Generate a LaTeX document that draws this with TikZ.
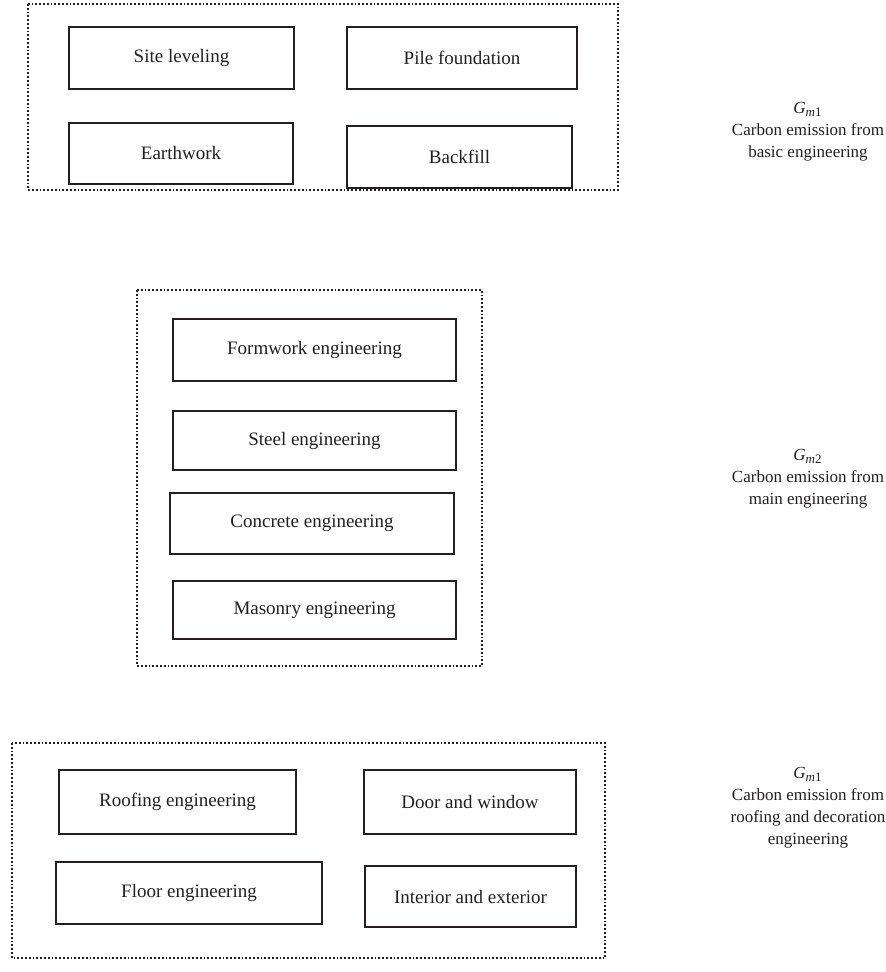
\documentclass[tikz,border=0pt]{standalone}
\usepackage{fontspec}
\setmainfont{Liberation Serif}
\usetikzlibrary{positioning}

\definecolor{inkgray}{HTML}{231F20}

\newcommand{\gsym}[1]{\textit{G}$_{\mbox{\fontsize{6.5}{7}\selectfont\textit{m}#1}}$}

\tikzset{
  itembox/.style={draw=inkgray, line width=0.6pt, inner sep=0pt, text=inkgray,
    font=\fontsize{9.5}{11}\selectfont},
  panel/.style={draw=inkgray, line width=0.9pt, densely dotted},
  sidelabel/.style={align=center, text=inkgray, inner sep=0pt, font=\fontsize{8.5}{11}\selectfont}
}

\begin{document}
\begin{tikzpicture}[x=0.5pt,y=-0.5pt]
\useasboundingbox (0,0) rectangle (885,972);
\draw[panel] (28,4) rectangle (618,190);
\node[itembox, minimum width=112.5pt, minimum height=31pt] (site) at (181.5,58) {Site leveling};
\node[itembox, minimum width=115pt, minimum height=31pt] (pile) at (462,58) {Pile foundation};
\node[itembox, minimum width=112pt, minimum height=30.5pt] (earth) at (181,153.5) {Earthwork};
\node[itembox, minimum width=112.5pt, minimum height=31pt] (backfill) at (459.5,157) {Backfill};
\node[sidelabel] (gbasic) at (808,132) {\gsym{1}\\Carbon emission from\\basic engineering};

\draw[panel] (137,290) rectangle (482,666);
\node[itembox, minimum width=141.5pt, minimum height=31pt] (formwork) at (314.5,350) {Formwork engineering};
\node[itembox, minimum width=141.5pt, minimum height=29.5pt] (steel) at (314.5,440.5) {Steel engineering};
\node[itembox, minimum width=142pt, minimum height=30.5pt] (concrete) at (312,523.5) {Concrete engineering};
\node[itembox, minimum width=141.5pt, minimum height=29pt] (masonry) at (314.5,610) {Masonry engineering};
\node[sidelabel] (gmain) at (808,479) {\gsym{2}\\Carbon emission from\\main engineering};

\draw[panel] (12,743) rectangle (605,958);
\node[itembox, minimum width=118.5pt, minimum height=32pt] (roofing) at (177.5,802) {Roofing engineering};
\node[itembox, minimum width=106pt, minimum height=32pt] (door) at (470,802) {Door and window};
\node[itembox, minimum width=133pt, minimum height=31pt] (floor) at (189,893) {Floor engineering};
\node[itembox, minimum width=105.5pt, minimum height=30.5pt] (interior) at (470.5,896.5) {Interior and exterior};
\node[sidelabel] (groof) at (808,808) {\gsym{1}\\Carbon emission from\\roofing and decoration\\engineering};
\end{tikzpicture}
\end{document}
